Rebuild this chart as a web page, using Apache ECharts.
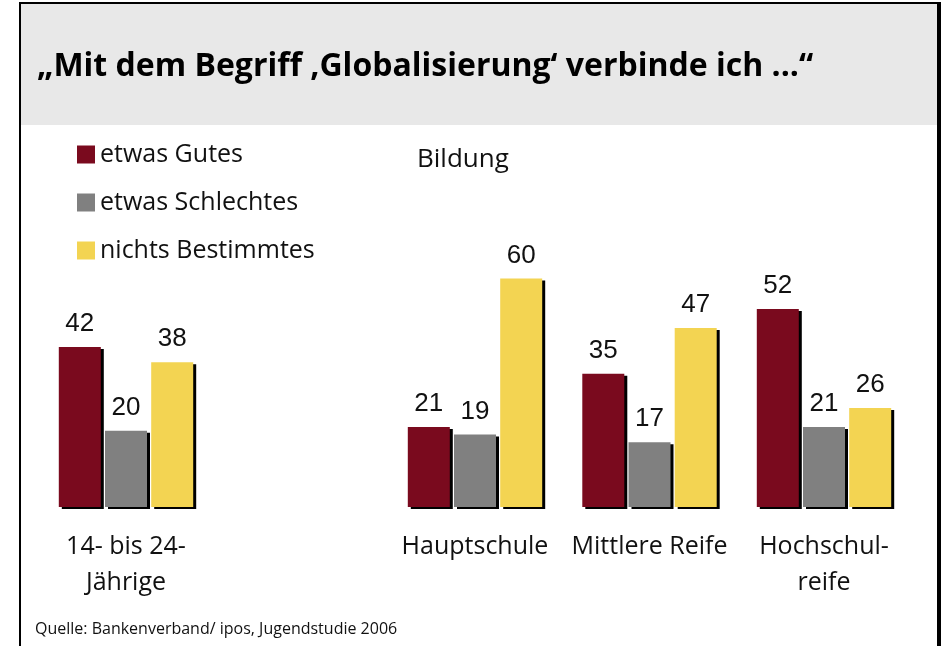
<!DOCTYPE html>
<html>
<head>
<meta charset="utf-8">
<script src="https://cdn.jsdelivr.net/npm/echarts@6/dist/echarts.min.js"></script>
<style>
  html, body { margin: 0; padding: 0; background: #fff; }
  #chart { width: 944px; height: 646px; }
</style>
</head>
<body>
<div id="chart"></div>
<script>
const categories = ["14- bis 24-\nJährige", "", "Hauptschule", "Mittlere Reife", "Hochschul-\nreife"];
const gutes = [42, "-", 21, 35, 52];
const schlechtes = [20, "-", 19, 17, 21];
const nichts = [38, "-", 60, 47, 26];
const seriesNames = ["etwas Gutes", "etwas Schlechtes", "nichts Bestimmtes"];
const colors = ["#7a0a1e", "#808080", "#f3d452"];

const chart = echarts.init(document.getElementById("chart"));

const makeSeries = (name, data, color) => ({
  name: name,
  type: "bar",
  data: data,
  barWidth: 42,
  barGap: "10%",
  itemStyle: {
    color: color,
    shadowColor: "#000",
    shadowBlur: 0,
    shadowOffsetX: 3,
    shadowOffsetY: 2,
  },
  label: {
    show: true,
    position: "top",
    distance: 10,
    fontFamily: "Liberation Sans",
    fontSize: 26,
    color: "#111",
  },
});

chart.setOption({
  animation: false,
  color: colors,
  graphic: [
    // grey title band
    { type: "rect", shape: { x: 21, y: 4, width: 916, height: 121 }, style: { fill: "#e8e8e8" } },
    // frame lines
    { type: "rect", shape: { x: 19, y: 2, width: 922, height: 2 }, style: { fill: "#000" } },
    { type: "rect", shape: { x: 19, y: 2, width: 2, height: 644 }, style: { fill: "#000" } },
    { type: "rect", shape: { x: 937, y: 2, width: 4, height: 644 }, style: { fill: "#000" } },
    {
      type: "text",
      style: {
        x: 37, y: 67, verticalAlign: "middle",
        text: "„Mit dem Begriff ‚Globalisierung‘ verbinde ich ...“",
        fontFamily: "Open Sans", fontWeight: "bold", fontSize: 32, fill: "#000",
      },
    },
    {
      type: "text",
      style: { x: 417, y: 160, verticalAlign: "middle", text: "Bildung", fontFamily: "Open Sans", fontSize: 26, fill: "#111" },
    },
    {
      type: "text",
      style: { x: 35, y: 629, verticalAlign: "middle", text: "Quelle: Bankenverband/ ipos, Jugendstudie 2006", fontFamily: "Open Sans", fontSize: 16, fill: "#111" },
    },
  ],
  legend: {
    data: seriesNames,
    orient: "vertical",
    left: 72,
    top: 137,
    icon: "rect",
    itemWidth: 18,
    itemHeight: 18,
    itemGap: 23,
    textStyle: { fontFamily: "Open Sans", fontSize: 25, color: "#111" },
  },
  grid: { left: 38.75, right: 32.75, top: 278.4, bottom: 139 },
  xAxis: {
    type: "category",
    data: categories,
    axisLine: { show: false },
    axisTick: { show: false },
    axisLabel: {
      interval: 0,
      margin: 22,
      fontFamily: "Open Sans",
      fontSize: 25,
      lineHeight: 36,
      color: "#111",
    },
  },
  yAxis: {
    type: "value",
    min: 0,
    max: 60,
    show: false,
    splitLine: { show: false },
  },
  series: [
    makeSeries(seriesNames[0], gutes, colors[0]),
    makeSeries(seriesNames[1], schlechtes, colors[1]),
    makeSeries(seriesNames[2], nichts, colors[2]),
  ],
});
</script>
</body>
</html>
